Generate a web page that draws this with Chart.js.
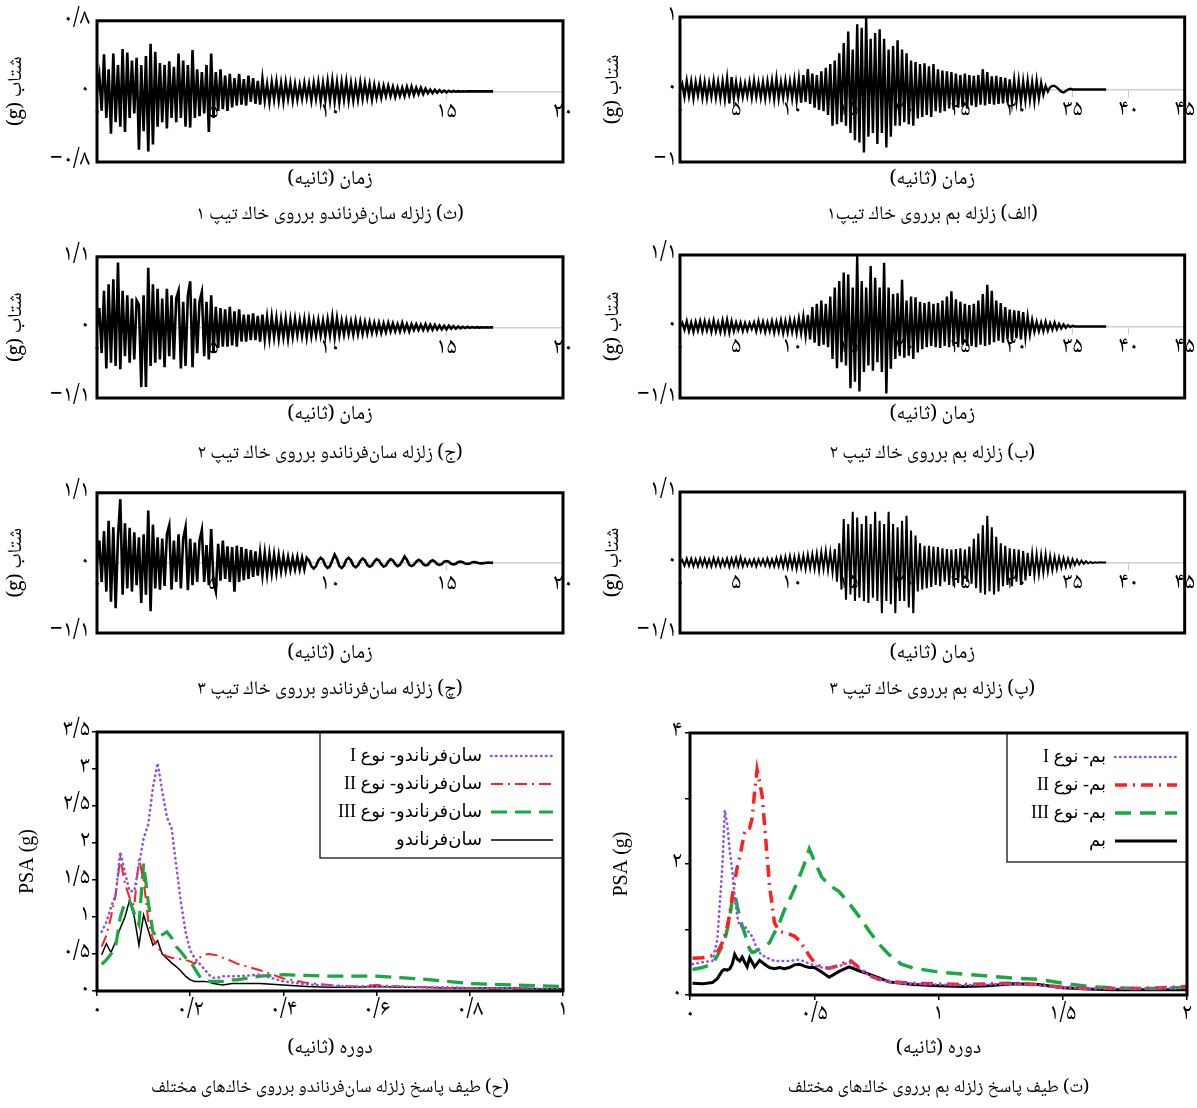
<!DOCTYPE html>
<html lang="fa">
<head>
<meta charset="utf-8">
<title>شتاب‌نگاشت‌ها و طیف پاسخ</title>
<script src="https://cdn.jsdelivr.net/npm/chart.js@4.4.1/dist/chart.umd.min.js"></script>
<style>
  html, body { margin: 0; background: #fff; }
  #sheet { position: relative; width: 1197px; height: 1108px; background: #fff; }
  #sheet canvas { position: absolute; }
</style>
</head>
<body>
<div id="sheet">
  <canvas id="sf1" width="598" height="236" style="left:0;top:0"></canvas>
  <canvas id="bam1" width="599" height="236" style="left:598px;top:0"></canvas>
  <canvas id="sf2" width="598" height="236" style="left:0;top:236px"></canvas>
  <canvas id="bam2" width="599" height="236" style="left:598px;top:236px"></canvas>
  <canvas id="sf3" width="598" height="238" style="left:0;top:472px"></canvas>
  <canvas id="bam3" width="599" height="238" style="left:598px;top:472px"></canvas>
  <canvas id="sfSpec" width="598" height="398" style="left:0;top:710px"></canvas>
  <canvas id="bamSpec" width="599" height="398" style="left:598px;top:710px"></canvas>
</div>
<script>
// --- accelerograms (g), San Fernando every 0.1 s, Bam every 0.2 s ---
const sfStep = 0.1;
const bamStep = 0.2;

const sfType1 = [
  0, 0.18, -0.22, 0.42, -0.3, 0.25, -0.48, 0.43, -0.35, 0.3,
  -0.4, 0.48, -0.46, 0.44, -0.3, 0.35, -0.25, 0.38, -0.66, 0.3,
  -0.45, 0.4, -0.68, 0.54, -0.6, 0.45, -0.4, 0.32, -0.35, 0.3,
  -0.42, 0.34, -0.3, 0.28, -0.35, 0.43, -0.3, 0.35, -0.4, 0.3,
  -0.41, 0.47, -0.3, 0.25, -0.28, 0.22, -0.25, 0.3, -0.46, 0.43,
  -0.3, 0.22, -0.22, 0.25, -0.2, 0.18, -0.22, 0.2, -0.18, 0.15,
  -0.16, 0.2, -0.15, 0.14, -0.16, 0.18, -0.12, 0.15, -0.14, 0.12,
  -0.15, 0.14, -0.1, 0.08, -0.12, 0.1, -0.09, 0.11, -0.1, 0.09,
  -0.11, 0.1, -0.08, 0.09, -0.1, 0.08, -0.09, 0.07, -0.08, 0.09,
  -0.07, 0.08, -0.1, 0.09, -0.08, 0.1, -0.11, 0.09, -0.1, 0.11,
  -0.1, 0.12, -0.11, 0.1, -0.12, 0.1, -0.09, 0.11, -0.1, 0.09,
  -0.1, 0.08, -0.09, 0.1, -0.08, 0.09, -0.07, 0.08, -0.09, 0.07,
  -0.07, 0.06, -0.07, 0.06, -0.05, 0.06, -0.05, 0.05, -0.06, 0.04,
  -0.05, 0.04, -0.05, 0.05, -0.04, 0.05, -0.04, 0.04, -0.03, 0.04,
  -0.03, 0.03, -0.02, 0.02, -0.02, 0.02, -0.015, 0.015, -0.01, 0.01,
  -0.01, 0.008, -0.006, 0.005, -0.004, 0.003, -0.002, 0.002, -0.001, 0.001,
  0, 0, 0, 0, 0, 0, 0, 0, 0, 0,
  0
];

const sfType2 = [
  0, 0.3, -0.4, 0.57, -0.64, 0.67, -0.55, 0.75, -0.6, 1.01,
  -0.65, 0.57, -0.45, 0.5, -0.55, 0.45, -0.5, 0.42, 0.35, -0.93,
  0.5, -0.93, 0.93, -0.6, 0.67, -0.55, 0.6, -0.5, 0.45, -0.62,
  0.6, -0.45, 0.5, -0.5, 0.45, 0.57, -0.64, 0.4, -0.6, 0.5,
  0.72, -0.62, 0.45, -0.4, 0.4, 0.55, -0.45, 0.4, -0.5, 0.5,
  -0.4, 0.32, -0.32, 0.3, -0.3, 0.28, -0.3, 0.32, -0.28, 0.25,
  -0.3, 0.28, -0.22, 0.2, -0.22, 0.2, -0.2, 0.22, -0.2, 0.18,
  -0.22, 0.2, -0.18, 0.15, -0.17, 0.16, -0.15, 0.14, -0.17, 0.12,
  -0.15, 0.13, -0.17, 0.12, -0.14, 0.13, -0.12, 0.11, -0.13, 0.12,
  -0.15, 0.12, -0.13, 0.1, -0.12, 0.11, -0.12, 0.1, -0.13, 0.12,
  -0.12, 0.16, -0.15, 0.14, -0.12, 0.1, -0.11, 0.1, -0.1, 0.09,
  -0.11, 0.1, -0.1, 0.09, -0.1, 0.08, -0.09, 0.08, -0.08, 0.07,
  -0.08, 0.07, -0.08, 0.06, -0.07, 0.07, -0.06, 0.06, -0.06, 0.05,
  -0.06, 0.07, -0.05, 0.05, -0.06, 0.05, -0.04, 0.05, -0.04, 0.04,
  -0.04, 0.05, -0.04, 0.04, -0.035, 0.04, -0.03, 0.03, -0.03, 0.025,
  -0.03, 0.025, -0.02, 0.02, -0.02, 0.015, -0.015, 0.01, -0.01, 0.01,
  -0.008, 0.006, -0.005, 0.004, -0.003, 0.002, -0.002, 0.001, -0.001, 0,
  0
];

const sfType3 = [
  0, 0.35, -0.3, 0.5, -0.45, 0.66, -0.61, 0.56, -0.71, 0.4,
  1.0, -0.5, 0.62, -0.4, 0.55, -0.45, 0.48, -0.35, 0.4, -0.63,
  0.45, -0.5, 0.82, -0.76, 0.6, -0.4, 0.4, -0.42, 0.38, -0.36,
  0.45, 0.59, -0.42, 0.35, -0.3, 0.45, -0.4, 0.38, 0.56, -0.43,
  0.38, -0.35, 0.32, -0.3, 0.35, 0.52, -0.3, 0.28, -0.35, 0.53,
  -0.3, -0.45, 0.3, -0.28, 0.35, -0.25, 0.26, -0.3, 0.25, -0.45,
  0.27, -0.3, 0.25, -0.27, 0.22, -0.25, 0.2, -0.22, 0.18, -0.2,
  0.16, -0.19, 0.15, -0.18, 0.14, -0.16, 0.13, -0.15, 0.12, -0.13,
  0.1, -0.12, 0.09, -0.11, 0.08, -0.1, 0.09, -0.1, 0.08, -0.1,
  0.08, 0.04, -0.05, -0.09, -0.05, 0.04, 0.08, 0.05, -0.04, -0.08,
  -0.05, 0.04, 0.13, 0.06, -0.05, -0.08, -0.04, 0.05, 0.08, 0.04,
  -0.04, -0.07, -0.04, 0.03, 0.07, 0.04, -0.03, -0.06, -0.04, 0.02,
  0.06, 0.04, -0.02, -0.06, -0.04, 0.02, 0.06, 0.04, -0.02, -0.05,
  -0.03, 0.03, 0.1, 0.05, -0.03, -0.05, -0.03, 0.02, 0.05, 0.03,
  -0.02, -0.04, -0.03, 0.02, 0.04, 0.02, -0.02, -0.03, -0.02, 0.02,
  0.03, 0.02, -0.015, -0.025, -0.015, 0.015, 0.02, 0.01, -0.01, -0.015,
  -0.01, 0.01, 0.012, 0.006, -0.006, -0.008, -0.004, 0.003, 0.004, 0.002,
  0
];

const bamType1 = [
  0, 0.08, -0.1, 0.12, -0.09, 0.11, -0.12, 0.1, -0.08, 0.12,
  -0.11, 0.1, -0.12, 0.09, -0.1, 0.12, -0.11, 0.1, -0.12, 0.11,
  -0.13, 0.15, -0.19, 0.17, -0.12, 0.1, -0.11, 0.09, -0.1, 0.08,
  -0.09, 0.1, -0.11, 0.12, -0.1, 0.09, -0.11, 0.1, -0.12, 0.11,
  -0.1, 0.12, -0.13, 0.15, -0.12, 0.1, -0.11, 0.12, -0.1, 0.11,
  -0.12, 0.13, -0.15, 0.14, -0.18, 0.2, -0.17, 0.28, -0.2, 0.22,
  -0.25, 0.2, -0.28, 0.25, -0.3, 0.3, -0.35, 0.35, -0.5, 0.4,
  -0.48, 0.5, -0.45, 0.64, -0.5, 0.8, -0.6, 0.55, -0.7, 0.9,
  -0.73, 0.85, -0.87, 1.0, -0.65, 0.7, -0.6, 0.78, -0.75, 0.83,
  -0.6, 0.7, -0.8, 0.55, -0.65, 0.6, -0.5, 0.68, -0.5, 0.55,
  -0.45, 0.5, -0.48, 0.4, -0.5, 0.38, -0.4, 0.35, -0.38, 0.36,
  -0.35, 0.32, -0.38, 0.35, -0.3, 0.28, -0.32, 0.26, -0.3, 0.25,
  -0.26, 0.24, -0.28, 0.22, -0.25, 0.2, -0.24, 0.22, -0.26, 0.2,
  -0.22, 0.19, -0.24, 0.2, -0.21, 0.28, -0.22, 0.24, -0.2, 0.18,
  -0.21, 0.19, -0.2, 0.17, -0.19, 0.16, -0.18, 0.14, -0.17, 0.13,
  -0.16, 0.12, -0.17, 0.11, -0.15, 0.12, -0.14, 0.1, -0.16, 0.12,
  -0.12, 0.09, -0.07, 0.05, -0.03, 0.03, 0.05, 0.05, 0.03, 0,
  -0.03, -0.04, -0.02, 0, 0.01, 0, 0, 0, 0, 0,
  0, 0, 0, 0, 0, 0, 0, 0, 0, 0,
  0
];

const bamType2 = [
  0, 0.06, -0.05, 0.08, -0.07, 0.06, -0.08, 0.07, -0.06, 0.08,
  -0.07, 0.08, -0.06, 0.07, -0.08, 0.09, -0.07, 0.06, -0.08, 0.09,
  -0.08, 0.1, -0.09, 0.08, -0.07, 0.06, -0.05, 0.06, -0.07, 0.05,
  -0.06, 0.05, -0.04, 0.06, -0.07, 0.08, -0.06, 0.07, -0.08, 0.06,
  -0.07, 0.08, -0.09, 0.07, -0.08, 0.09, -0.1, 0.08, -0.09, 0.1,
  -0.08, 0.09, -0.1, 0.12, -0.1, 0.15, -0.14, 0.18, -0.2, 0.3,
  -0.25, 0.35, -0.3, 0.4, -0.28, 0.35, -0.32, 0.46, -0.5, 0.6,
  -0.64, 0.7, -0.55, 0.83, -0.6, 0.8, -0.95, 0.6, -0.85, 1.1,
  -1.0, 0.7, -0.7, 0.6, -0.6, 0.93, -0.68, 0.75, -0.55, 0.6,
  -0.7, 0.98, -1.03, 0.6, -0.65, 0.5, -0.5, 0.51, -0.45, 0.72,
  -0.48, 0.4, -0.45, 0.46, -0.5, 0.45, -0.4, 0.38, -0.35, 0.36,
  -0.32, 0.38, -0.3, 0.35, -0.32, 0.36, -0.33, 0.4, -0.3, 0.46,
  -0.32, 0.54, -0.3, 0.42, -0.32, 0.38, -0.28, 0.35, -0.3, 0.33,
  -0.3, 0.35, -0.32, 0.4, -0.28, 0.5, -0.3, 0.64, -0.28, 0.55,
  -0.24, 0.4, -0.22, 0.36, -0.25, 0.3, -0.2, 0.26, -0.22, 0.25,
  -0.18, 0.24, -0.2, 0.22, -0.16, 0.15, -0.12, 0.1, -0.08, 0.07,
  -0.07, 0.06, -0.07, 0.07, -0.06, 0.05, -0.05, 0.06, -0.04, 0.04,
  -0.03, 0.03, -0.02, 0.02, -0.01, 0.01, 0, 0, 0, 0,
  0, 0, 0, 0, 0, 0, 0, 0, 0, 0,
  0
];

const bamType3 = [
  0, 0.04, -0.05, 0.06, -0.05, 0.06, -0.06, 0.05, -0.06, 0.06,
  -0.05, 0.06, -0.06, 0.05, -0.06, 0.07, -0.05, 0.06, -0.06, 0.05,
  -0.05, 0.06, -0.07, 0.06, -0.05, 0.07, -0.06, 0.08, -0.06, 0.05,
  -0.05, 0.04, -0.05, 0.05, -0.06, 0.05, -0.04, 0.05, -0.05, 0.06,
  -0.06, 0.05, -0.06, 0.07, -0.06, 0.08, -0.07, 0.09, -0.08, 0.1,
  -0.08, 0.09, -0.1, 0.1, -0.08, 0.11, -0.1, 0.12, -0.09, 0.13,
  -0.1, 0.14, -0.12, 0.16, -0.1, 0.18, -0.12, 0.16, -0.15, 0.21,
  -0.3, 0.3, -0.42, 0.68, -0.58, 0.6, -0.5, 0.79, -0.6, 0.7,
  -0.55, 0.6, -0.6, 0.73, -0.63, 0.6, -0.55, 0.79, -0.6, 0.65,
  -0.79, 0.6, -0.6, 0.79, -0.65, 0.6, -0.79, 0.55, -0.6, 0.65,
  -0.6, 0.73, -0.7, 0.5, -0.79, 0.42, -0.45, 0.3, -0.42, 0.26,
  -0.4, 0.26, -0.38, 0.25, -0.35, 0.24, -0.37, 0.22, -0.3, 0.21,
  -0.35, 0.2, -0.37, 0.21, -0.32, 0.22, -0.35, 0.2, -0.3, 0.25,
  -0.33, 0.37, -0.4, 0.45, -0.47, 0.58, -0.5, 0.73, -0.45, 0.55,
  -0.5, 0.4, -0.45, 0.3, -0.37, 0.26, -0.35, 0.22, -0.37, 0.21,
  -0.3, 0.2, -0.35, 0.18, -0.28, 0.15, -0.21, 0.14, -0.2, 0.13,
  -0.18, 0.12, -0.16, 0.13, -0.14, 0.1, -0.12, 0.09, -0.1, 0.08,
  -0.08, 0.07, -0.07, 0.06, -0.06, 0.05, -0.04, 0.04, -0.03, 0.03,
  -0.02, 0.02, -0.015, 0.01, -0.01, 0.005, -0.004, 0.002, 0, 0,
  0
];

// --- response spectra, PSA (g) against period (s) ---
const sfPeriod = [
  0.01, 0.02, 0.03, 0.04, 0.05, 0.06, 0.07, 0.08, 0.09, 0.10,
  0.11, 0.12, 0.13, 0.14, 0.15, 0.16, 0.17, 0.18, 0.19, 0.20,
  0.21, 0.22, 0.23, 0.24, 0.25, 0.26, 0.27, 0.28, 0.29, 0.30,
  0.35, 0.40, 0.45, 0.50, 0.55, 0.60, 0.65, 0.70, 0.75, 0.80, 0.85, 0.90, 0.95, 1.00
];
const sfPsaType1 = [
  0.8, 0.93, 1.13, 1.3, 1.88, 1.6, 1.35, 1.35, 1.7, 2.06,
  2.25, 2.75, 3.08, 2.7, 2.35, 2.2, 1.7, 1.2, 0.8, 0.55,
  0.44, 0.37, 0.3, 0.22, 0.18, 0.18, 0.2, 0.2, 0.2, 0.2,
  0.22, 0.13, 0.09, 0.07, 0.06, 0.06, 0.06, 0.05, 0.05, 0.04, 0.04, 0.04, 0.03, 0.03
];
const sfPsaType2 = [
  0.6, 0.75, 1.0, 1.3, 1.79, 1.45, 1.26, 1.15, 1.79, 1.5,
  0.95, 0.7, 0.6, 0.5, 0.47, 0.45, 0.44, 0.43, 0.42, 0.4,
  0.37, 0.45, 0.49, 0.5, 0.49, 0.48, 0.45, 0.43, 0.4, 0.37,
  0.28, 0.17, 0.11, 0.08, 0.06, 0.08, 0.06, 0.05, 0.04, 0.04, 0.03, 0.03, 0.02, 0.02
];
const sfPsaType3 = [
  0.36, 0.42, 0.5, 0.6, 1.0, 1.2, 1.22, 1.05, 0.9, 1.72,
  1.2, 0.8, 0.72, 0.76, 0.8, 0.72, 0.6, 0.53, 0.45, 0.4,
  0.3, 0.2, 0.15, 0.13, 0.13, 0.13, 0.13, 0.14, 0.15, 0.15,
  0.2, 0.22, 0.21, 0.2, 0.2, 0.2, 0.18, 0.16, 0.13, 0.1, 0.09, 0.08, 0.07, 0.06
];
const sfPsa = [
  0.49, 0.64, 0.52, 0.67, 0.85, 1.0, 1.23, 1.0, 0.62, 1.03,
  0.82, 0.62, 0.68, 0.5, 0.44, 0.38, 0.33, 0.27, 0.2, 0.15,
  0.13, 0.13, 0.13, 0.12, 0.1, 0.09, 0.08, 0.09, 0.1, 0.1,
  0.1, 0.08, 0.06, 0.05, 0.05, 0.06, 0.05, 0.05, 0.04, 0.04, 0.04, 0.04, 0.03, 0.03
];

const bamPeriod = [
  0.01, 0.05, 0.09, 0.11, 0.13, 0.14, 0.15, 0.16, 0.17, 0.18,
  0.19, 0.20, 0.21, 0.22, 0.23, 0.24, 0.25, 0.26, 0.27, 0.28,
  0.29, 0.30, 0.32, 0.34, 0.36, 0.38, 0.40, 0.42, 0.44, 0.46,
  0.48, 0.50, 0.53, 0.56, 0.60, 0.64, 0.68, 0.72, 0.76, 0.80,
  0.85, 0.90, 1.0, 1.1, 1.2, 1.3, 1.4, 1.5, 1.6, 1.7,
  1.8, 1.9, 2.0
];
const bamPsaType1 = [
  0.47, 0.5, 0.52, 0.84, 1.95, 2.82, 2.6, 2.2, 1.9, 1.5,
  1.2, 1.05, 1.05, 1.05, 1.0, 0.93, 0.9, 0.8, 0.7, 0.65,
  0.6, 0.59, 0.55, 0.52, 0.52, 0.52, 0.52, 0.53, 0.54, 0.51,
  0.48, 0.45, 0.42, 0.41, 0.44, 0.5, 0.41, 0.3, 0.24, 0.2,
  0.18, 0.17, 0.16, 0.15, 0.16, 0.17, 0.15, 0.11, 0.1, 0.1,
  0.1, 0.1, 0.11
];
const bamPsaType2 = [
  0.56, 0.57, 0.6, 0.65, 0.8, 0.9, 1.05, 1.23, 1.5, 1.75,
  1.95, 2.1, 2.3, 2.48, 2.55, 2.55, 2.7, 3.1, 3.44, 3.25,
  3.05, 2.6, 1.67, 1.1, 0.97, 0.95, 0.93, 0.9, 0.83, 0.72,
  0.6, 0.5, 0.42, 0.41, 0.45, 0.54, 0.42, 0.3, 0.24, 0.21,
  0.19, 0.18, 0.17, 0.16, 0.17, 0.18, 0.16, 0.12, 0.1, 0.1,
  0.1, 0.11, 0.13
];
const bamPsaType3 = [
  0.39, 0.42, 0.47, 0.6, 0.75, 0.85, 1.0, 1.2, 1.45, 1.55,
  1.35, 1.2, 1.05, 0.95, 0.8, 0.7, 0.65, 0.66, 0.68, 0.7,
  0.72, 0.75, 0.8, 0.95, 1.1, 1.3, 1.45, 1.62, 1.8, 2.0,
  2.23, 2.05, 1.8, 1.68, 1.58, 1.4, 1.2, 0.98, 0.78, 0.62,
  0.47, 0.41, 0.35, 0.32, 0.29, 0.26, 0.24, 0.18, 0.13, 0.11,
  0.1, 0.1, 0.12
];
const bamPsa = [
  0.18, 0.17, 0.19, 0.25, 0.37, 0.39, 0.38, 0.4, 0.47, 0.62,
  0.55, 0.52, 0.58, 0.5, 0.43, 0.57, 0.5, 0.43, 0.48, 0.53,
  0.5, 0.47, 0.42, 0.4, 0.42, 0.4, 0.42, 0.46, 0.47, 0.44,
  0.42, 0.42, 0.35, 0.27, 0.36, 0.43, 0.37, 0.32, 0.26, 0.2,
  0.18, 0.16, 0.14, 0.13, 0.14, 0.17, 0.16, 0.11, 0.09, 0.08,
  0.08, 0.08, 0.08
];

// --- text helpers ---
const FA = "'Noto Naskh Arabic', 'DejaVu Sans', sans-serif";
const SERIF = "'Liberation Serif', 'DejaVu Sans', serif";
const faDigits = '۰۱۲۳۴۵۶۷۸۹';
function fa(v) {
  const s = String(Math.round(v * 100) / 100);
  return s.replace('-', '−').replace('.', '/').replace(/[0-9]/g, d => faDigits[+d]);
}
const rtl = s => '\u200F' + s + '\u200F';

// font sizes of the different text roles
const TICK = 23, AXIS_TITLE = 20, CAPTION = 19, SPEC_CAPTION = 18, LEGEND = 18;

Chart.defaults.font.family = FA;
Chart.defaults.color = '#000';

// heavy black box round the plot area
const frame = {
  id: 'frame',
  afterDatasetsDraw(chart) {
    const { ctx, chartArea: a } = chart;
    ctx.save();
    ctx.strokeStyle = '#000';
    ctx.lineWidth = 3;
    ctx.strokeRect(a.left, a.top, a.right - a.left, a.bottom - a.top);
    ctx.restore();
  }
};

// legend pinned to the top-right corner of the plot, with a thin box
function legendBox(w, h, gap) {
  return {
    id: 'legendBox',
    afterLayout(chart) {
      const lg = chart.legend, a = chart.chartArea;
      lg.left = a.right - w; lg.right = a.right; lg.width = w;
      lg.top = a.top + gap; lg.bottom = a.bottom; lg.height = a.bottom - a.top - gap;
    },
    afterDraw(chart) {
      const { ctx, chartArea: a } = chart;
      ctx.save();
      ctx.strokeStyle = '#000';
      ctx.lineWidth = 1.2;
      ctx.strokeRect(a.right - w, a.top, w, h);
      ctx.restore();
    }
  };
}

function drawHistory(id, values, step, p) {
  const pts = values.map((v, i) => ({ x: Math.round(i * step * 10) / 10, y: v }));
  const subLH = AXIS_TITLE * 1.2, capLH = CAPTION * 1.2;
  new Chart(document.getElementById(id), {
    type: 'line',
    data: { datasets: [{ data: pts, borderColor: '#000', borderWidth: p.lw, pointRadius: 0, fill: false }] },
    options: {
      responsive: false, animation: false, events: [],
      layout: { padding: { top: p.top, right: p.right, left: 0, bottom: p.h - p.capY - capLH / 2 } },
      plugins: {
        legend: { display: false },
        tooltip: { enabled: false },
        subtitle: {
          display: true, position: 'bottom', fullSize: false, text: rtl('زمان (ثانیه)'),
          color: '#000', font: { size: AXIS_TITLE }, padding: { top: p.subY - p.bottom - subLH / 2, bottom: 0 }
        },
        title: {
          display: true, position: 'bottom', fullSize: false, text: rtl(p.caption),
          color: '#000', font: { size: CAPTION, weight: 'normal' },
          padding: { top: p.capY - p.subY - subLH / 2 - capLH / 2, bottom: 0 }
        }
      },
      scales: {
        x: {
          type: 'linear', position: { y: 0 }, min: 0, max: p.xMax,
          ticks: { stepSize: 5, autoSkip: false, maxRotation: 0, padding: 2, color: '#000', font: { size: TICK }, callback: v => fa(v) },
          grid: { drawOnChartArea: false, color: '#c8c8c8', tickLength: 7 },
          border: { color: '#cfcfcf', width: 1.5 }
        },
        y: {
          min: -p.yMax, max: p.yMax,
          ticks: { stepSize: p.yMax, padding: p.tickGap, color: '#000', font: { size: TICK }, callback: v => fa(v) },
          grid: { display: false, drawTicks: false },
          border: { display: false },
          title: { display: true, text: '(g) شتاب', color: '#000', font: { size: AXIS_TITLE },
                   padding: { top: p.titleX - AXIS_TITLE * 0.6, bottom: 0 } },
          afterFit: s => { s.width = p.axisW; }
        }
      }
    },
    plugins: [frame]
  });
}

function drawSpectrum(id, period, curves, p) {
  const capLH = SPEC_CAPTION * 1.2, titleLH = AXIS_TITLE * 1.2;
  new Chart(document.getElementById(id), {
    type: 'line',
    data: {
      datasets: curves.map(c => ({
        label: c.label,
        data: period.map((t, i) => ({ x: t, y: c.values[i] })),
        borderColor: c.color, borderWidth: c.width, borderDash: c.dash, borderCapStyle: c.cap,
        pointRadius: 0, fill: false, tension: 0
      }))
    },
    options: {
      responsive: false, animation: false, events: [],
      layout: { padding: { top: p.top, right: p.right, left: 0, bottom: p.h - p.capY - capLH / 2 } },
      plugins: {
        tooltip: { enabled: false },
        legend: {
          position: 'chartArea', align: 'start', rtl: true, textDirection: 'rtl',
          labels: {
            usePointStyle: true, pointStyleWidth: p.sampleW, padding: 10, color: '#000',
            font: { family: SERIF, size: LEGEND },
            generateLabels: chart => chart.data.datasets.map((d, i) => ({
              text: d.label, datasetIndex: i, hidden: false, fontColor: '#000',
              strokeStyle: d.borderColor, fillStyle: d.borderColor, lineWidth: d.borderWidth,
              lineDash: d.borderDash, lineCap: d.borderCapStyle, pointStyle: 'line'
            }))
          }
        },
        title: {
          display: true, position: 'bottom', fullSize: false, text: rtl(p.caption),
          color: '#000', font: { size: SPEC_CAPTION, weight: 'normal' },
          padding: { top: p.capY - p.xTitleY - titleLH / 2 - capLH / 2, bottom: 0 }
        }
      },
      scales: {
        x: {
          type: 'linear', min: 0, max: p.xMax,
          ticks: { stepSize: p.xStep, autoSkip: false, maxRotation: 0, padding: 2, color: '#000', font: { size: TICK }, callback: v => fa(v) },
          grid: { drawOnChartArea: false, color: '#000', tickLength: 5, lineWidth: 1.5 },
          border: { display: false },
          title: { display: true, text: rtl('دوره (ثانیه)'), color: '#000', font: { size: AXIS_TITLE }, padding: { top: 0, bottom: 0 } },
          afterFit: s => { s.height = p.xTitleY + titleLH / 2 - p.bottom; }
        },
        y: {
          min: 0, max: p.yMax,
          ticks: { stepSize: p.yStep, padding: p.tickGap, color: '#000', font: { size: TICK },
                   callback: v => (Math.abs(v / p.labelEvery - Math.round(v / p.labelEvery)) < 1e-6 ? fa(v) : '') },
          grid: { drawOnChartArea: false, color: '#000', tickLength: 5, lineWidth: 1.5 },
          border: { display: false },
          title: { display: true, text: 'PSA (g)', color: '#000', font: { family: SERIF, size: 20 }, padding: { top: p.titleX - 12, bottom: 0 } },
          afterFit: s => { s.width = p.axisW; }
        }
      }
    },
    plugins: [frame, legendBox(p.legendW, p.legendH, 5)]
  });
}

const leftCol = { right: 35, axisW: 97, tickGap: 7, titleX: 18, xMax: 20, lw: 2.6 };
const rightCol = { right: 10, axisW: 82, tickGap: 3, titleX: 17, xMax: 45, lw: 2.4 };

drawHistory('sf1', sfType1, sfStep, { ...leftCol, h: 236, top: 17, bottom: 162, subY: 181, capY: 217, yMax: 0.8,
  caption: '(ث) زلزله سان‌فرناندو برروی خاك تیپ ۱' });
drawHistory('bam1', bamType1, bamStep, { ...rightCol, h: 236, top: 17, bottom: 162, subY: 181, capY: 217, yMax: 1,
  caption: '(الف) زلزله بم برروی خاك تیپ۱' });
drawHistory('sf2', sfType2, sfStep, { ...leftCol, h: 236, top: 19, bottom: 162, subY: 180, capY: 220, yMax: 1.1,
  caption: '(ج) زلزله سان‌فرناندو برروی خاك تیپ ۲' });
drawHistory('bam2', bamType2, bamStep, { ...rightCol, h: 236, top: 19, bottom: 162, subY: 180, capY: 220, yMax: 1.1,
  caption: '(ب) زلزله بم برروی خاك تیپ ۲' });
drawHistory('sf3', sfType3, sfStep, { ...leftCol, h: 238, top: 20, bottom: 161, subY: 183, capY: 220, yMax: 1.1,
  caption: '(چ) زلزله سان‌فرناندو برروی خاك تیپ ۳' });
drawHistory('bam3', bamType3, bamStep, { ...rightCol, lw: 2, h: 238, top: 20, bottom: 161, subY: 183, capY: 220, yMax: 1.1,
  caption: '(پ) زلزله بم برروی خاك تیپ ۳' });

drawSpectrum('sfSpec', sfPeriod, [
  { label: 'سان‌فرناندو- نوع I', values: sfPsaType1, color: '#8f55dd', width: 2.6, dash: [0.5, 4.5], cap: 'round' },
  { label: 'سان‌فرناندو- نوع II', values: sfPsaType2, color: '#ff1f1f', width: 2, dash: [12, 5, 2, 5], cap: 'butt' },
  { label: 'سان‌فرناندو- نوع III', values: sfPsaType3, color: '#18a844', width: 3.2, dash: [16, 8], cap: 'butt' },
  { label: 'سان‌فرناندو', values: sfPsa, color: '#000', width: 1.5, dash: [], cap: 'butt' }
], { h: 398, top: 22, bottom: 281, right: 35, axisW: 97, tickGap: 2, titleX: 28, xMax: 1, xStep: 0.2,
  yMax: 3.5, yStep: 0.5, labelEvery: 0.5, xTitleY: 340, capY: 380, sampleW: 62, legendW: 243, legendH: 126,
  caption: '(ح) طیف پاسخ زلزله سان‌فرناندو برروی خاك‌های مختلف' });

drawSpectrum('bamSpec', bamPeriod, [
  { label: 'بم- نوع I', values: bamPsaType1, color: '#8f55dd', width: 2.6, dash: [0.5, 4.5], cap: 'round' },
  { label: 'بم- نوع II', values: bamPsaType2, color: '#ff1f1f', width: 3.5, dash: [12, 6, 2, 6], cap: 'butt' },
  { label: 'بم- نوع III', values: bamPsaType3, color: '#18a844', width: 3.5, dash: [16, 9], cap: 'butt' },
  { label: 'بم', values: bamPsa, color: '#000', width: 3, dash: [], cap: 'butt' }
], { h: 398, top: 23, bottom: 285, right: 10, axisW: 92, tickGap: 3, titleX: 24, xMax: 2, xStep: 0.5,
  yMax: 4, yStep: 1, labelEvery: 2, xTitleY: 340, capY: 380, sampleW: 62, legendW: 180, legendH: 129,
  caption: '(ت) طیف پاسخ زلزله بم برروی خاك‌های مختلف' });
</script>
</body>
</html>
